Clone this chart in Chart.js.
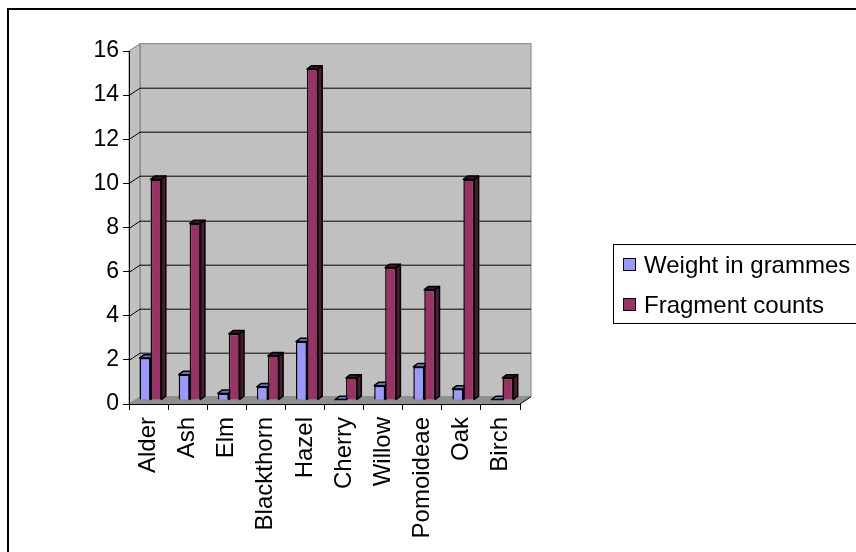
<!DOCTYPE html>
<html>
<head>
<meta charset="utf-8">
<script src="https://cdn.jsdelivr.net/npm/chart.js@4.4.1/dist/chart.umd.min.js"></script>
<style>
  html, body { margin: 0; padding: 0; background: #fff; }
  #wrap { width: 856px; height: 552px; }
</style>
</head>
<body>
<div id="wrap"><canvas id="woodChart" width="856" height="552"></canvas></div>
<script>
const taxa = ['Alder', 'Ash', 'Elm', 'Blackthorn', 'Hazel', 'Cherry', 'Willow', 'Pomoideae', 'Oak', 'Birch'];
const weightGrammes = [1.9, 1.15, 0.3, 0.6, 2.65, 0.02, 0.65, 1.5, 0.5, 0.02];
const fragmentCounts = [10, 8, 3, 2, 15, 1, 6, 5, 10, 1];
const yTicks = [0, 2, 4, 6, 8, 10, 12, 14, 16];

const FONT = '"Liberation Sans", Arial, sans-serif';
// depth of the 3d box (back wall offset) and of the bars
const WALL_DX = 11, WALL_DY = -7.3;
const BAR_DX = 2, BAR_DY = -4;
const FACE_DX = 4.3, FACE_DY = -3.3;

const faceColors = ['#5c5ca6', '#4d1a33'];
const topColors = ['#7070c4', '#3d1428'];

const box3d = {
    id: 'box3d',
    beforeDraw(chart) {
        const ctx = chart.ctx;
        const a = chart.chartArea;
        const ys = chart.scales.y;
        ctx.save();
        // outer frame
        ctx.strokeStyle = '#000';
        ctx.lineWidth = 2;
        ctx.beginPath();
        ctx.moveTo(8, 552);
        ctx.lineTo(8, 9);
        ctx.lineTo(856, 9);
        ctx.stroke();

        ctx.lineWidth = 1;
        // back wall
        ctx.fillStyle = '#c0c0c0';
        ctx.fillRect(a.left + WALL_DX, a.top + WALL_DY, a.right - a.left, a.bottom - a.top);
        ctx.strokeStyle = '#808080';
        ctx.strokeRect(a.left + WALL_DX, a.top + WALL_DY, a.right - a.left, a.bottom - a.top);
        // side wall
        ctx.beginPath();
        ctx.moveTo(a.left, a.top);
        ctx.lineTo(a.left + WALL_DX, a.top + WALL_DY);
        ctx.lineTo(a.left + WALL_DX, a.bottom + WALL_DY);
        ctx.lineTo(a.left, a.bottom);
        ctx.closePath();
        ctx.fill();
        ctx.stroke();
        // floor
        ctx.fillStyle = '#8f8f8f';
        ctx.beginPath();
        ctx.moveTo(a.left, a.bottom);
        ctx.lineTo(a.right, a.bottom);
        ctx.lineTo(a.right + WALL_DX, a.bottom + WALL_DY);
        ctx.lineTo(a.left + WALL_DX, a.bottom + WALL_DY);
        ctx.closePath();
        ctx.fill();
        ctx.strokeStyle = '#000';
        ctx.beginPath();
        ctx.moveTo(a.right, a.bottom);
        ctx.lineTo(a.right + WALL_DX, a.bottom + WALL_DY);
        ctx.stroke();
        // grid lines on side and back wall
        yTicks.slice(1, -1).forEach(v => {
            const y = Math.round(ys.getPixelForValue(v)) + 0.5;
            ctx.beginPath();
            ctx.moveTo(a.left, y);
            ctx.lineTo(a.left + WALL_DX, y + WALL_DY);
            ctx.lineTo(a.right + WALL_DX, y + WALL_DY);
            ctx.stroke();
        });
        ctx.restore();
    },
    beforeDatasetsDraw(chart) {
        const ctx = chart.ctx;
        ctx.save();
        ctx.translate(BAR_DX, BAR_DY);
        // depth faces first, the front faces of the bars cover them afterwards
        ctx.lineWidth = 1.5;
        ctx.strokeStyle = '#000';
        ctx.lineJoin = 'round';
        for (let i = 0; i < taxa.length; i++) {
            chart.data.datasets.forEach((ds, d) => {
                const bar = chart.getDatasetMeta(d).data[i];
                const L = bar.x - bar.width / 2, R = bar.x + bar.width / 2;
                const T = bar.y, B = bar.base;
                ctx.fillStyle = topColors[d];
                ctx.beginPath();
                ctx.moveTo(L, T);
                ctx.lineTo(R, T);
                ctx.lineTo(R + FACE_DX, T + FACE_DY);
                ctx.lineTo(L + FACE_DX, T + FACE_DY);
                ctx.closePath();
                ctx.fill();
                ctx.stroke();
                ctx.fillStyle = faceColors[d];
                ctx.beginPath();
                ctx.moveTo(R, T);
                ctx.lineTo(R + FACE_DX, T + FACE_DY);
                ctx.lineTo(R + FACE_DX, B + FACE_DY);
                ctx.lineTo(R, B);
                ctx.closePath();
                ctx.fill();
                ctx.stroke();
            });
        }
    },
    afterDatasetsDraw(chart) {
        chart.ctx.restore();
    },
    afterDraw(chart) {
        const ctx = chart.ctx;
        ctx.save();
        ctx.strokeStyle = '#000';
        ctx.lineWidth = 1;
        ctx.strokeRect(613.5, 244.5, 300, 79);
        ctx.font = '24px ' + FONT;
        ctx.textBaseline = 'middle';
        chart.data.datasets.forEach((ds, d) => {
            const cy = 265 + d * 40;
            ctx.fillStyle = ds.backgroundColor;
            ctx.fillRect(623.5, cy - 6.5, 12, 12);
            ctx.strokeRect(623.5, cy - 6.5, 12, 12);
            ctx.fillStyle = '#000';
            ctx.fillText(ds.label, 644, cy + 1);
        });
        ctx.restore();
    }
};

new Chart(document.getElementById('woodChart').getContext('2d'), {
    type: 'bar',
    data: {
        labels: taxa,
        datasets: [{
            label: 'Weight in grammes',
            data: weightGrammes,
            backgroundColor: '#9999ff',
            borderColor: '#000',
            borderWidth: 1.5
        }, {
            label: 'Fragment counts',
            data: fragmentCounts,
            backgroundColor: '#993366',
            borderColor: '#000',
            borderWidth: 1.5
        }]
    },
    options: {
        responsive: false,
        animation: false,
        categoryPercentage: 0.56,
        barPercentage: 1,
        layout: { padding: { top: 51, left: 0, right: 336, bottom: 0 } },
        plugins: {
            legend: { display: false },
            tooltip: { enabled: false }
        },
        scales: {
            x: {
                afterFit(scale) { scale.height = 148; },
                grid: { offset: true, drawOnChartArea: false, tickLength: 6, color: '#000' },
                border: { color: '#000' },
                ticks: {
                    minRotation: 90, maxRotation: 90, padding: 7, color: '#000',
                    font: { family: FONT, size: 24 }
                }
            },
            y: {
                min: 0,
                max: 16,
                afterFit(scale) { scale.width = 129; },
                afterBuildTicks(scale) { scale.ticks = yTicks.map(v => ({ value: v })); },
                grid: { drawOnChartArea: false, tickLength: 6, color: '#000' },
                border: { color: '#000' },
                ticks: {
                    padding: 4, color: '#000',
                    font: { family: FONT, size: 23 }
                }
            }
        }
    },
    plugins: [box3d]
});
</script>
</body>
</html>
